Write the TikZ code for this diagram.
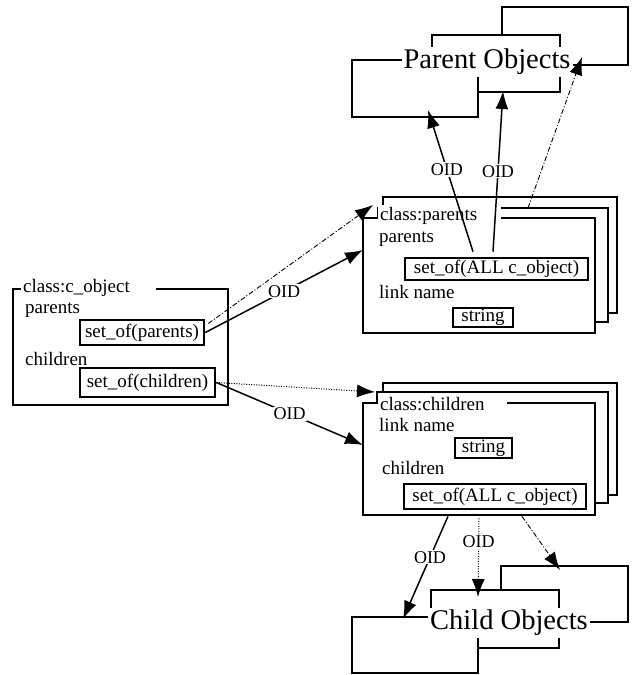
\documentclass[tikz,border=0pt]{standalone}
\usepackage{fontspec}
\setmainfont{Liberation Serif}
\usetikzlibrary{arrows.meta}

\begin{document}
\begin{tikzpicture}[x=1pt,y=-1pt,
	box/.style={draw,line width=1.3pt,fill=white},
	setof/.style={draw,line width=2.6pt,inner sep=0pt,font=\fontsize{19}{21}\selectfont},
	strbox/.style={draw,line width=1.3pt,inner sep=0pt,font=\fontsize{19}{21}\selectfont},
	lbl/.style={anchor=base west,inner sep=2pt,fill=white,font=\fontsize{19}{21}\selectfont},
	oid/.style={fill=white,inner sep=1pt,font=\fontsize{18}{20}\selectfont},
	big/.style={anchor=base,fill=white,inner sep=2pt,font=\fontsize{28.5}{30}\selectfont},
	tip/.style={-{Latex[length=18pt,width=13pt]}},
	ref/.style={tip,line width=1.5pt},
	dashdot/.style={tip,line width=0.9pt,dash pattern=on 5pt off 2pt on 1pt off 2pt},
	dots/.style={tip,line width=1pt,dash pattern=on 1pt off 1.5pt}]
	\useasboundingbox (0,0) rectangle (633,675);

	\draw[box] (13,289) rectangle (228,405);
	\node[lbl] (ctitle) at (21,292) {class:c\_object\kern24pt};
	\node[lbl] (cparlbl) at (23,313) {parents};
	\node[setof,minimum width=124pt,minimum height=25pt] (cpar) at (142,332.5) {set\_of(parents)};
	\node[lbl] (cchilbl) at (23,365) {children};
	\node[setof,minimum width=135pt,minimum height=29pt] (cchi) at (147.5,382.5) {set\_of(children)};

	\draw[box] (383,197) rectangle (617,313);
	\draw[box] (378,208) rectangle (608,322);
	\draw[box] (363,218) rectangle (595,333);
	\node[lbl] (ptitle) at (378,220) {class:parents\kern22pt};
	\node[lbl] (pparlbl) at (377,242) {parents};
	\node[setof,minimum width=183pt,minimum height=22pt] (psetof) at (496.5,269) {set\_of(ALL c\_object)};
	\node[lbl] (plink) at (377,298) {link name};
	\node[strbox,minimum width=60pt,minimum height=19pt] (pstr) at (483,317.5) {string};

	\draw[box] (383,383) rectangle (617,495);
	\draw[box] (377,392) rectangle (608,503);
	\draw[box] (363,403) rectangle (595,515);
	\node[lbl] (chtitle) at (378,410) {class:children\kern20pt};
	\node[lbl] (clink) at (377,431) {link name};
	\node[strbox,minimum width=57pt,minimum height=20pt] (cstr) at (483.5,448) {string};
	\node[lbl] (cchild) at (380,474) {children};
	\node[setof,minimum width=182pt,minimum height=25pt] (csetof) at (495,496.5) {set\_of(ALL c\_object)};

	\draw[box] (502,7) rectangle (628,65);
	\draw[box] (432,35) rectangle (560,92);
	\draw[box] (352,60) rectangle (478,117);
	\node[big] (pobj) at (487,68.5) {Parent Objects};

	\draw[box] (501,566) rectangle (628,622);
	\draw[box] (431,590) rectangle (559,648);
	\draw[box] (352,617) rectangle (478,673);
	\node[big] (cobj) at (509,629.5) {Child Objects};

	\coordinate (pin) at (363,250);
	\coordinate (pcorner) at (373,205);
	\coordinate (ccorner) at (375,392);
	\coordinate (cin) at (363,445);
	\coordinate (pstack) at (528,208);
	\coordinate (po1) at (428,110);
	\coordinate (po2) at (503,91);
	\coordinate (po3) at (582,57);
	\coordinate (co1) at (403,619);
	\coordinate (co2) at (478,597);
	\coordinate (co3) at (560,570);

	\draw[ref] (cpar.east) -- node[oid] (oid1) {OID} (pin);
	\draw[dashdot] ([xshift=3pt,yshift=9pt]cpar.east) -- (pcorner);
	\draw[dots] (cchi.east) -- (ccorner);
	\draw[ref] (cchi.east) -- node[oid] (oid2) {OID} (cin);
	\draw[ref] ([xshift=-23.5pt,yshift=5pt]psetof.north) -- node[oid,pos=0.58] (oid3) {OID} (po1);
	\draw[ref] ([xshift=-3.5pt,yshift=5pt]psetof.north) -- node[oid] (oid4) {OID} (po2);
	\draw[dashdot] (pstack) -- (po3);
	\draw[ref] ([xshift=-47pt,yshift=-6pt]csetof.south) -- node[oid,pos=0.4] (oid5) {OID} (co1);
	\draw[dots] ([xshift=-16pt,yshift=-8pt]csetof.south) -- node[oid,pos=0.3] (oid6) {OID} (co2);
	\draw[dashdot] ([xshift=27pt,yshift=-6pt]csetof.south) -- (co3);
\end{tikzpicture}
\end{document}
